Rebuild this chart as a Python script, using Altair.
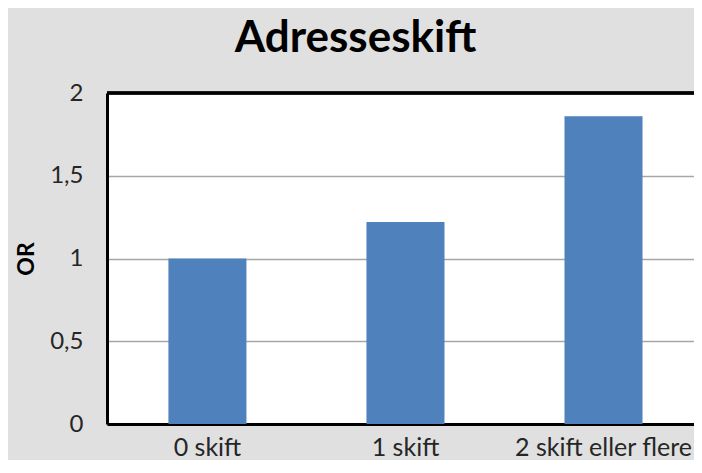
import altair as alt
import pandas as pd

categories = ["0 skift", "1 skift", "2 skift eller flere"]
values = [1.0, 1.22, 1.86]
y_ticks = [0, 0.5, 1, 1.5, 2]

df = pd.DataFrame({"kategori": categories, "OR": values})

W, H = 587, 331

bars = alt.Chart(df).mark_bar(color="#4f81bd").encode(
    x=alt.X(
        "kategori:N",
        sort=categories,
        scale=alt.Scale(paddingInner=0.606, paddingOuter=0.285, align=0.544),
        axis=alt.Axis(
            title=None, labelAngle=0, labelFont="Lato", labelFontSize=25,
            labelColor="#262626", labelPadding=11, ticks=False, tickSize=0,
            domainColor="black", domainWidth=3, grid=False,
        ),
    ),
    y=alt.Y(
        "OR:Q",
        scale=alt.Scale(domain=[0, 2], nice=False),
        axis=alt.Axis(
            values=y_ticks,
            labelExpr="replace(toString(datum.value), '.', ',')",
            title="OR", titleFont="Lato", titleFontSize=23, titleFontWeight="bold",
            titleColor="black", titleX=-81, titleBaseline="middle",
            labelFont="Lato", labelFontSize=24, labelColor="#262626",
            labelPadding=24, ticks=False, tickSize=0,
            domainColor="black", domainWidth=3,
            grid=True, gridColor="#a6a6a6", gridWidth=1.5,
        ),
    ),
)

top = alt.Chart(df).mark_rule(color="black", strokeWidth=3).encode(
    x=alt.value(0), x2=alt.value(W), y=alt.value(0)
)

chart = (
    alt.layer(bars, top)
    .properties(
        width=W, height=H,
        title=alt.TitleParams(
            "Adresseskift", font="Lato", fontSize=44, fontWeight="bold",
            color="black", anchor="middle", frame="group", dx=-45, dy=-16,
        ),
        autosize=alt.AutoSizeParams(type="none"),
        padding={"left": 99, "top": 85, "right": 0, "bottom": 36},
        background="#e0e0e0",
    )
    .configure_view(stroke=None, fill="white")
)

chart.save("out.html", embed_options={"renderer": "svg", "actions": False})
